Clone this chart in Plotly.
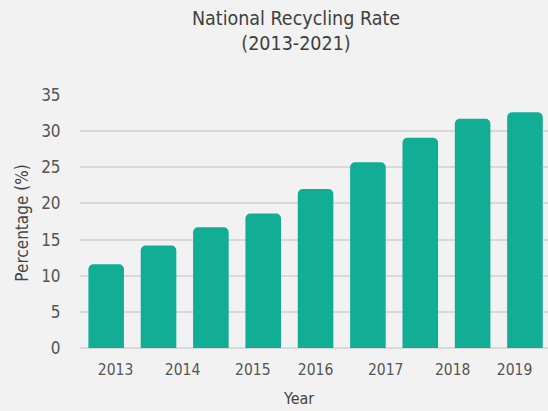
import plotly.graph_objects as go

years = [2013, 2014, 2015, 2016, 2017, 2018, 2019, 2020, 2021]
rates = [11.6, 14.2, 16.7, 18.6, 22.0, 25.7, 29.1, 31.7, 32.6]
tick_labels = ["2013", "2014", "2015", "2016", "2017", "2018", "2019"]
tick_positions = [2013.18, 2014.46, 2015.80, 2017.00, 2018.34, 2019.62, 2020.80]
y_ticks = [0, 5, 10, 15, 20, 25, 30, 35]

FONT = "DejaVu Sans Condensed, DejaVu Sans"
BG = "#f2f2f2"

fig = go.Figure()
fig.add_trace(go.Bar(
    x=years, y=rates,
    marker=dict(color="#12ad95", cornerradius=5, line=dict(width=0)),
    width=0.68,
))

fig.update_layout(
    width=548, height=411,
    paper_bgcolor=BG, plot_bgcolor=BG,
    margin=dict(l=80, r=0, t=95, b=60),
    font=dict(family=FONT, color="#555555"),
    showlegend=False,
    title=dict(
        text="National Recycling Rate<br>(2013-2021)",
        font=dict(family=FONT, size=19.5, color="#404040"),
        x=296/548, xanchor="center", xref="container",
        y=0.94, yanchor="top", yref="container",
    ),
    xaxis=dict(
        range=[2012.5, 2021.44],
        tickvals=tick_positions, ticktext=tick_labels,
        tickfont=dict(size=15.5, color="#555555"),
        showgrid=False, zeroline=False, showline=False,
        ticks="outside", ticklen=4, tickcolor=BG,
    ),
    yaxis=dict(
        range=[-0.4, 35],
        tickvals=y_ticks,
        tickfont=dict(size=17, color="#555555"),
        showgrid=True, gridcolor="#d9d9d9", gridwidth=2,
        zeroline=False, showline=False,
        ticks="outside", ticklen=15, tickcolor=BG,
        title=dict(text="Percentage (%)", font=dict(size=17, color="#444444"), standoff=8),
    ),
    annotations=[dict(
        text="Year", x=(298-80)/468, xref="paper", y=-0.185, yref="paper",
        xanchor="center", yanchor="middle", showarrow=False,
        font=dict(family=FONT, size=16, color="#444444"),
    )],
)

fig.write_html("out.html", config={"displayModeBar": False},
               post_script="document.body.style.margin='0';")
